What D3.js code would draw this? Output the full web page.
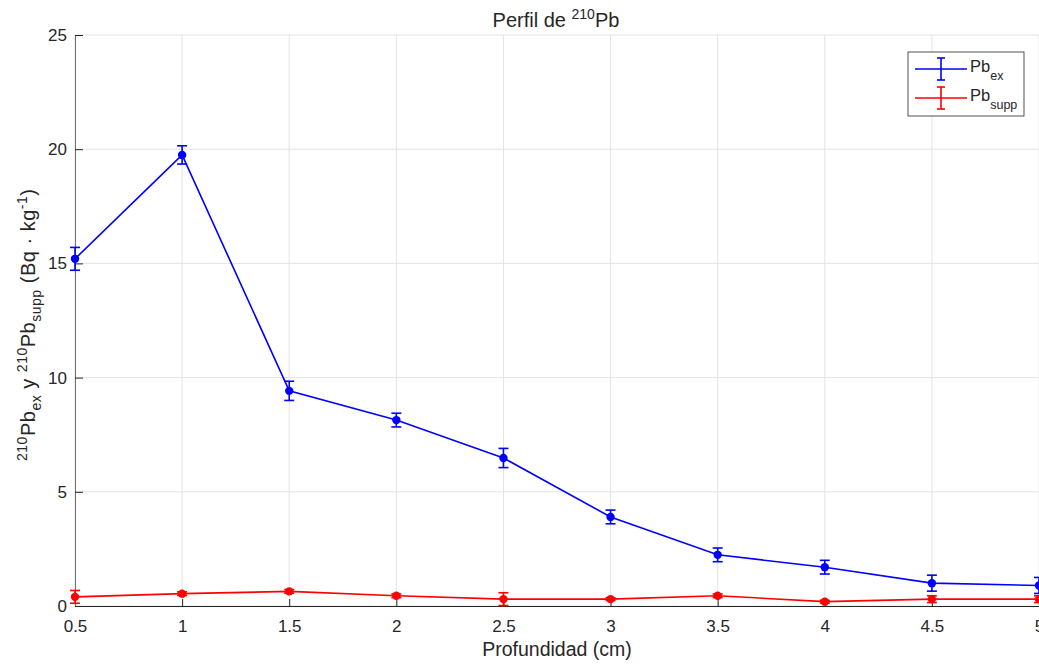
<!DOCTYPE html>
<html>
<head>
<meta charset="utf-8">
<script src="https://cdn.jsdelivr.net/npm/d3@7"></script>
<style>
  body { margin: 0; background: #fff; }
  text { font-family: "Liberation Sans", Arial, sans-serif; fill: #262626; }
</style>
</head>
<body>
<svg id="chart" width="1039" height="666"></svg>
<script>
// profundidad (cm)
var depth = [0.5, 1, 1.5, 2, 2.5, 3, 3.5, 4, 4.5, 5];
// Pb exceso y su error
var pbEx = [15.2, 19.75, 9.42, 8.14, 6.48, 3.9, 2.24, 1.7, 1.0, 0.9];
var pbExErr = [0.5, 0.4, 0.42, 0.3, 0.42, 0.3, 0.3, 0.3, 0.35, 0.35];
// Pb soportado y su error
var pbSupp = [0.4, 0.54, 0.64, 0.45, 0.3, 0.3, 0.45, 0.19, 0.3, 0.3];
var pbSuppErr = [0.28, 0.08, 0.08, 0.08, 0.28, 0.06, 0.08, 0.06, 0.15, 0.15];
var xTicks = [0.5, 1, 1.5, 2, 2.5, 3, 3.5, 4, 4.5, 5];
var yTicks = [0, 5, 10, 15, 20, 25];

var svg = d3.select("#chart");
var mLeft = 75, mRight = 1039, mTop = 35, mBottom = 606;

var x = d3.scaleLinear().domain([0.5, 5]).range([mLeft, mRight]);
var y = d3.scaleLinear().domain([0, 25]).range([mBottom, mTop]);

// grid
svg.append("g")
    .selectAll("line")
    .data(xTicks)
    .join("line")
    .attr("x1", d => x(d)).attr("x2", d => x(d))
    .attr("y1", mTop).attr("y2", mBottom)
    .attr("stroke", "#e3e3e3");
svg.append("g")
    .selectAll("line")
    .data(yTicks)
    .join("line")
    .attr("x1", mLeft).attr("x2", mRight)
    .attr("y1", d => y(d)).attr("y2", d => y(d))
    .attr("stroke", "#e3e3e3");

// axes (ticks inward, matlab style)
svg.append("g")
    .attr("transform", "translate(0," + mBottom + ")")
    .call(d3.axisBottom(x).tickValues(xTicks).tickSize(-7).tickSizeOuter(0).tickPadding(14)
        .tickFormat(d3.format("")))
    .call(g => g.select(".domain").attr("stroke", "#262626"))
    .call(g => g.selectAll(".tick line").attr("stroke", "#262626"))
    .call(g => g.selectAll("text").attr("font-size", 17).attr("fill", "#262626"));

svg.append("g")
    .attr("transform", "translate(" + mLeft + ",0)")
    .call(d3.axisLeft(y).tickValues(yTicks).tickSize(-8).tickSizeOuter(0).tickPadding(8))
    .call(g => g.select(".domain").attr("stroke", "#707070"))
    .call(g => g.selectAll(".tick line").attr("stroke", "#262626"))
    .call(g => g.selectAll("text").attr("font-size", 17).attr("fill", "#262626"));

function series(vals, errs, color) {
    var pts = depth.map((d, i) => ({x: d, v: vals[i], e: errs[i]}));
    var g = svg.append("g");
    g.append("path")
        .datum(pts)
        .attr("fill", "none")
        .attr("stroke", color)
        .attr("stroke-width", 1.6)
        .attr("d", d3.line().x(d => x(d.x)).y(d => y(d.v)));
    var eb = g.selectAll("g").data(pts).join("g").attr("stroke", color).attr("stroke-width", 1.6);
    eb.append("line")
        .attr("x1", d => x(d.x)).attr("x2", d => x(d.x))
        .attr("y1", d => y(d.v - d.e)).attr("y2", d => y(d.v + d.e));
    eb.append("line")
        .attr("x1", d => x(d.x) - 5).attr("x2", d => x(d.x) + 5)
        .attr("y1", d => y(d.v - d.e)).attr("y2", d => y(d.v - d.e));
    eb.append("line")
        .attr("x1", d => x(d.x) - 5).attr("x2", d => x(d.x) + 5)
        .attr("y1", d => y(d.v + d.e)).attr("y2", d => y(d.v + d.e));
    g.selectAll("circle").data(pts).join("circle")
        .attr("cx", d => x(d.x)).attr("cy", d => y(d.v))
        .attr("r", 4.2).attr("fill", color);
}
series(pbSupp, pbSuppErr, "#ff0000");
series(pbEx, pbExErr, "#0000ff");

// title
var title = svg.append("text")
    .attr("x", 556).attr("y", 27)
    .attr("text-anchor", "middle")
    .attr("font-size", 20);
title.append("tspan").text("Perfil de ");
title.append("tspan").attr("font-size", 14).attr("dy", -8).text("210");
title.append("tspan").attr("dy", 8).text("Pb");

// x label
svg.append("text")
    .attr("x", 557).attr("y", 656)
    .attr("text-anchor", "middle")
    .attr("font-size", 19.5)
    .text("Profundidad (cm)");

// y label
var yl = svg.append("text")
    .attr("transform", "translate(35,325) rotate(-90)")
    .attr("text-anchor", "middle")
    .attr("font-size", 20)
    .attr("textLength", 272)
    .attr("lengthAdjust", "spacing");
yl.append("tspan").attr("font-size", 14).attr("dy", -8).text("210");
yl.append("tspan").attr("dy", 8).text("Pb");
yl.append("tspan").attr("font-size", 14).attr("dy", 6).text("ex");
yl.append("tspan").attr("dy", -6).text(" y ");
yl.append("tspan").attr("font-size", 14).attr("dy", -8).text("210");
yl.append("tspan").attr("dy", 8).text("Pb");
yl.append("tspan").attr("font-size", 14).attr("dy", 6).text("supp");
yl.append("tspan").attr("dy", -6).text(" (Bq \u00b7 kg");
yl.append("tspan").attr("font-size", 14).attr("dy", -8).text("-1");
yl.append("tspan").attr("dy", 8).text(")");

// legend
var lg = svg.append("g").attr("transform", "translate(908,52)");
lg.append("rect").attr("width", 116).attr("height", 64)
    .attr("fill", "#fff").attr("stroke", "#262626").attr("stroke-width", 0.8);
var items = [{name: "ex", color: "#0000ff", cy: 17}, {name: "supp", color: "#ff0000", cy: 46}];
items.forEach(function (it) {
    var g = lg.append("g").attr("stroke", it.color).attr("stroke-width", 1.6);
    g.append("line").attr("x1", 7).attr("x2", 59).attr("y1", it.cy).attr("y2", it.cy);
    g.append("line").attr("x1", 33).attr("x2", 33).attr("y1", it.cy - 11).attr("y2", it.cy + 11);
    g.append("line").attr("x1", 29).attr("x2", 37).attr("y1", it.cy - 11).attr("y2", it.cy - 11);
    g.append("line").attr("x1", 29).attr("x2", 37).attr("y1", it.cy + 11).attr("y2", it.cy + 11);
    var t = lg.append("text").attr("x", 62).attr("y", it.cy + 3).attr("font-size", 16.5).attr("fill", "#000");
    t.append("tspan").text("Pb");
    t.append("tspan").attr("font-size", 12.5).attr("dy", 8).text(it.name);
});
</script>
</body>
</html>
